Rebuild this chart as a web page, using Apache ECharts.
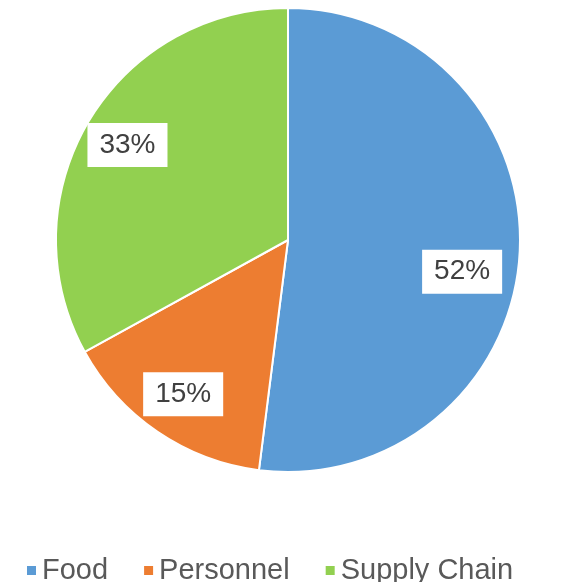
<!DOCTYPE html>
<html>
<head>
<meta charset="utf-8">
<script src="https://cdn.jsdelivr.net/npm/echarts@6/dist/echarts.min.js"></script>
<style>
  html, body { margin: 0; padding: 0; background: #fff; }
  #chart { width: 573px; height: 582px; }
</style>
</head>
<body>
<div id="chart"></div>
<script>
// data
var categories = ['Food', 'Personnel', 'Supply Chain'];
var shares = [52, 15, 33];
var colors = ['#5B9BD5', '#ED7D31', '#92D050'];

var pieData = categories.map(function (name, i) {
    return { name: name, value: shares[i] };
});

// label ring: same slices, first label nudged like the original
var labelData = pieData.map(function (d, i) {
    var item = { name: d.name, value: d.value };
    if (i === 0) item.label = { offset: [-12, 20] };
    return item;
});

var chart = echarts.init(document.getElementById('chart'));

var option = {
    animation: false,
    color: colors,
    legend: {
        data: categories,
        left: 20,
        top: 551,
        icon: 'rect',
        itemWidth: 11,
        itemHeight: 11,
        itemGap: 34,
        textStyle: {
            fontFamily: 'Liberation Sans',
            fontSize: 29,
            color: '#595959'
        }
    },
    series: [
        {
            // visible pie
            type: 'pie',
            center: [288, 240],
            radius: [0, 232],
            startAngle: 90,
            clockwise: true,
            data: pieData,
            label: { show: false },
            labelLine: { show: false },
            itemStyle: { borderColor: '#fff', borderWidth: 2 },
            emphasis: { disabled: true }
        },
        {
            // transparent ring only used to place labels further out
            type: 'pie',
            center: [288, 240],
            radius: [135, 232],
            startAngle: 90,
            clockwise: true,
            silent: true,
            data: labelData,
            itemStyle: { color: 'rgba(0,0,0,0)', borderWidth: 0 },
            labelLine: { show: false },
            label: {
                show: true,
                position: 'inside',
                formatter: '{c}%',
                fontFamily: 'Liberation Sans',
                fontSize: 28,
                lineHeight: 28,
                color: '#404040',
                backgroundColor: '#fff',
                padding: [8, 12]
            },
            emphasis: { disabled: true }
        }
    ]
};

chart.setOption(option);
</script>
</body>
</html>
